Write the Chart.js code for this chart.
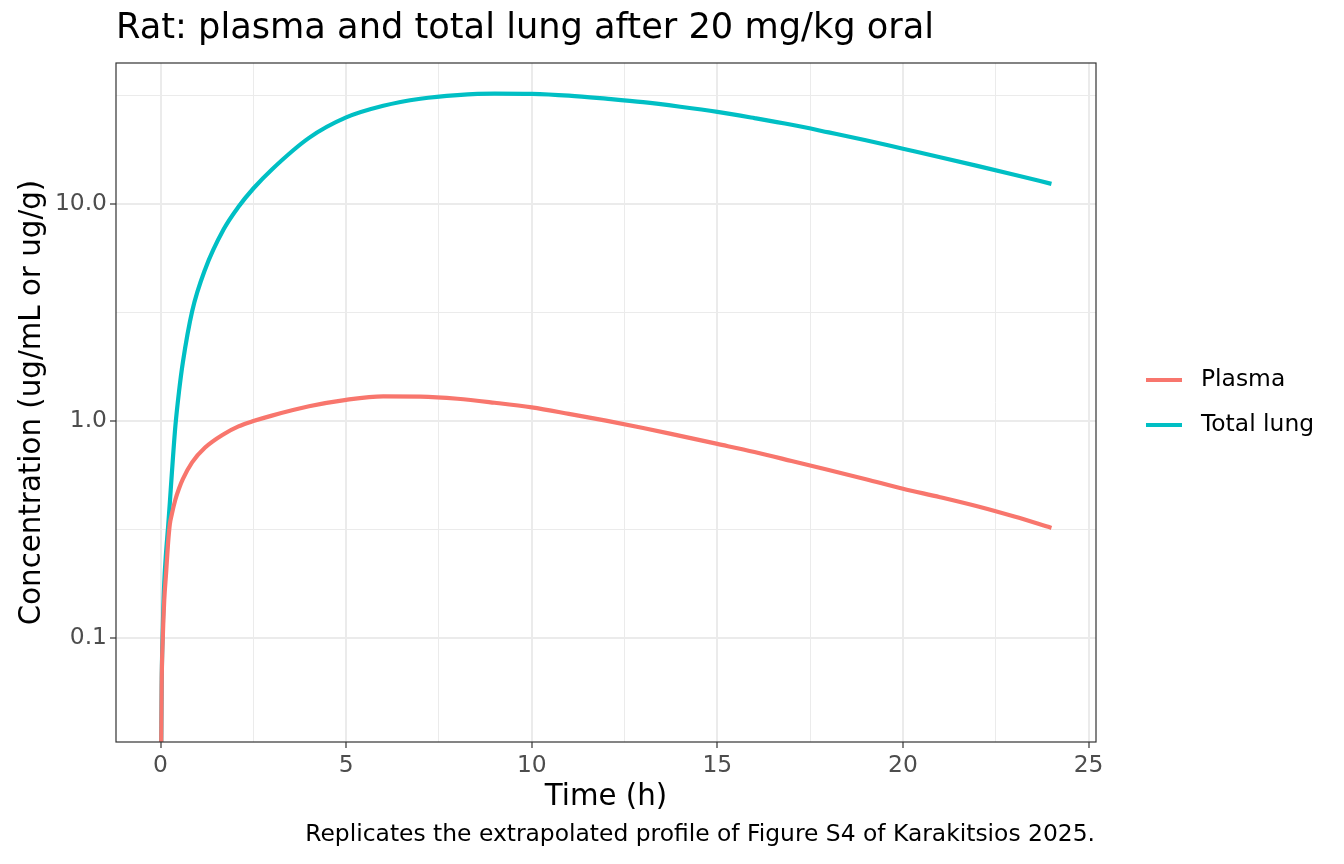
<!DOCTYPE html>
<html>
<head>
<meta charset="utf-8">
<title>Rat: plasma and total lung</title>
<script src="https://cdn.jsdelivr.net/npm/chart.js@4/dist/chart.umd.min.js"></script>
<style>
  html, body { margin: 0; padding: 0; background: #ffffff; }
  #wrap { width: 1344px; height: 864px; }
</style>
</head>
<body>
<div id="wrap"><canvas id="pkChart" width="1344" height="864"></canvas></div>
<script>
// Values (log y axis)
const timeHours = [0.01, 0.03, 0.06, 0.1, 0.15, 0.2, 0.25, 0.3, 0.4, 0.5, 0.6, 0.85, 1.2, 1.7, 2.1, 2.5, 3, 4, 5,
                   6, 7, 8, 9, 10, 11, 12, 13, 14, 15, 16, 17, 18, 19, 20, 21, 22, 23, 24];
const plasma = [0.02, 0.06, 0.10, 0.15, 0.20, 0.27, 0.335, 0.37, 0.435, 0.49, 0.54, 0.645, 0.755, 0.87, 0.945, 1.0, 1.06, 1.17, 1.253,
                1.30, 1.297, 1.268, 1.215, 1.156, 1.08, 1.005, 0.93, 0.855, 0.785, 0.72, 0.655, 0.595, 0.54, 0.488, 0.446, 0.405, 0.363, 0.322];
const totalLung = [0.02, 0.06, 0.11, 0.18, 0.25, 0.32, 0.42, 0.56, 0.95, 1.38, 1.86, 3.2, 5.0, 7.65, 9.72, 11.8, 14.45, 20.2, 25.1,
                   28.4, 30.6, 31.8, 32.3, 32.2, 31.6, 30.6, 29.5, 28.1, 26.6, 24.9, 23.2, 21.4, 19.7, 18.0, 16.45, 15.0, 13.65, 12.4];
const seriesNames = ['Plasma', 'Total lung'];
const seriesColors = ['#F8766D', '#00BFC4'];

const xTicks = [0, 2.5, 5, 7.5, 10, 12.5, 15, 17.5, 20, 22.5, 25];
const yTicks = [0.1, 0.316, 1, 3.16, 10, 31.6];
const yMajor = [0.1, 1, 10];

const titleText = 'Rat: plasma and total lung after 20 mg/kg oral';
const xTitle = 'Time (h)';
const yTitle = 'Concentration (ug/mL or ug/g)';
const captionText = 'Replicates the extrapolated profile of Figure S4 of Karakitsios 2025.';

const FONT = '"DejaVu Sans", Verdana, sans-serif';

function toPoints(ys) {
    return timeHours.map((t, i) => ({ x: t, y: ys[i] }));
}

// titles, caption, panel border and legend (ggplot style)
const decorations = {
    id: 'decorations',
    afterDraw(chart) {
        const ctx = chart.ctx;
        const area = chart.chartArea;
        ctx.save();

        // panel border
        ctx.strokeStyle = '#333333';
        ctx.lineWidth = 1.2;
        ctx.strokeRect(area.left, area.top, area.right - area.left, area.bottom - area.top);

        // title
        ctx.fillStyle = '#000000';
        ctx.font = '35.2px ' + FONT;
        ctx.textAlign = 'left';
        ctx.textBaseline = 'middle';
        ctx.fillText(titleText, area.left, 29);

        // axis titles
        ctx.font = '29.3px ' + FONT;
        ctx.textAlign = 'center';
        ctx.fillText(xTitle, (area.left + area.right) / 2, 797);
        ctx.save();
        ctx.translate(32, (area.top + area.bottom) / 2);
        ctx.rotate(-Math.PI / 2);
        ctx.fillText(yTitle, 0, 0);
        ctx.restore();

        // caption
        ctx.font = '23.4px ' + FONT;
        ctx.textAlign = 'right';
        ctx.fillText(captionText, area.right - 1, 835);

        // legend
        const rows = [380, 425];
        ctx.textAlign = 'left';
        chart.data.datasets.forEach((ds, i) => {
            ctx.strokeStyle = ds.borderColor;
            ctx.lineWidth = ds.borderWidth;
            ctx.beginPath();
            ctx.moveTo(1146, rows[i]);
            ctx.lineTo(1182, rows[i]);
            ctx.stroke();
            ctx.fillStyle = '#000000';
            ctx.fillText(ds.label, 1201, rows[i]);
        });

        ctx.restore();
    }
};

const ctx = document.getElementById('pkChart').getContext('2d');
new Chart(ctx, {
    type: 'line',
    data: {
        datasets: [
            { label: seriesNames[0], data: toPoints(plasma), borderColor: seriesColors[0], borderWidth: 4.2 },
            { label: seriesNames[1], data: toPoints(totalLung), borderColor: seriesColors[1], borderWidth: 4.2 }
        ]
    },
    options: {
        responsive: false,
        animation: false,
        devicePixelRatio: 1,
        layout: { padding: { left: 0, top: 63, right: 248, bottom: 0 } },
        elements: {
            point: { radius: 0, hoverRadius: 0 },
            line: { tension: 0.4, cubicInterpolationMode: 'monotone', fill: false }
        },
        plugins: {
            legend: { display: false },
            title: { display: false },
            tooltip: { enabled: false }
        },
        scales: {
            x: {
                type: 'linear',
                min: -1.2,
                max: 25.2,
                afterBuildTicks: s => { s.ticks = xTicks.map(v => ({ value: v })); },
                afterFit: s => { s.height = 122; },
                border: { display: false },
                grid: {
                    color: '#EBEBEB',
                    lineWidth: c => (c.tick && c.tick.value % 5 === 0) ? 2 : 1,
                    tickColor: c => (c.tick && c.tick.value % 5 === 0) ? '#333333' : 'rgba(0,0,0,0)',
                    tickWidth: 1.2,
                    tickLength: 6
                },
                ticks: {
                    autoSkip: false,
                    maxRotation: 0,
                    padding: 4,
                    color: '#4D4D4D',
                    font: { family: FONT, size: 23.4 },
                    callback: v => (v % 5 === 0) ? String(v) : ''
                }
            },
            y: {
                type: 'logarithmic',
                min: 0.0332,
                max: 44.7,
                afterBuildTicks: s => { s.ticks = yTicks.map(v => ({ value: v })); },
                afterFit: s => { s.width = 116; },
                border: { display: false },
                grid: {
                    color: '#EBEBEB',
                    lineWidth: c => (c.tick && yMajor.includes(c.tick.value)) ? 2 : 1,
                    tickColor: c => (c.tick && yMajor.includes(c.tick.value)) ? '#333333' : 'rgba(0,0,0,0)',
                    tickWidth: 1.2,
                    tickLength: 6
                },
                ticks: {
                    autoSkip: false,
                    padding: 3,
                    color: '#4D4D4D',
                    font: { family: FONT, size: 23.4 },
                    callback: v => yMajor.includes(v) ? v.toFixed(1) : ''
                }
            }
        }
    },
    plugins: [decorations]
});
</script>
</body>
</html>
